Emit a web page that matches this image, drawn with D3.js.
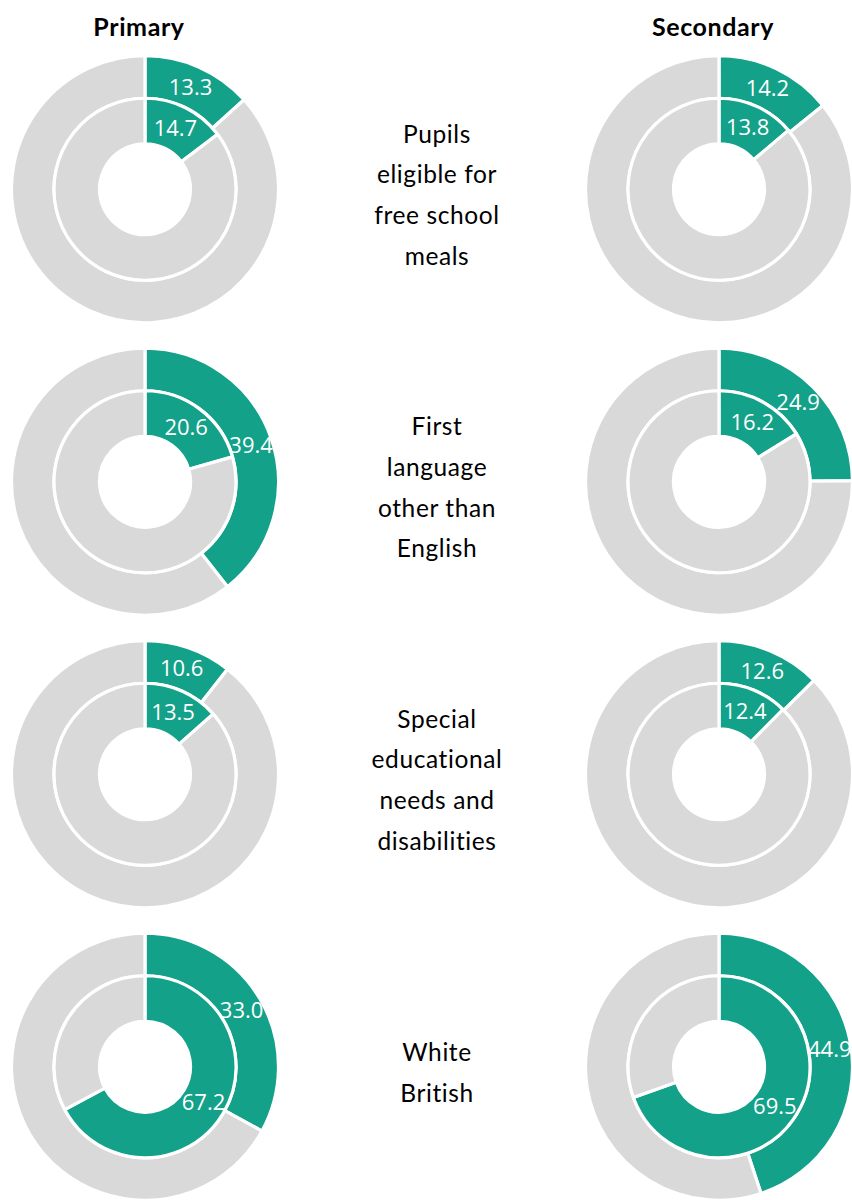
<!DOCTYPE html>
<html>
<head>
<meta charset="utf-8">
<script src="https://cdn.jsdelivr.net/npm/d3@7"></script>
<style>
  html, body { margin: 0; padding: 0; background: #ffffff; }
  svg { display: block; }
</style>
</head>
<body>
<div id="chart"></div>
<script>
// Pupil characteristics, shown as paired doughnuts (inner and outer ring) per phase
const categories = [
  ["Pupils", "eligible for", "free school", "meals"],
  ["First", "language", "other than", "English"],
  ["Special", "educational", "needs and", "disabilities"],
  ["White", "British"]
];
const phases = ["Primary", "Secondary"];

// Percentages for each category (same order as categories)
const primaryInner   = [14.7, 20.6, 13.5, 67.2];
const primaryOuter   = [13.3, 39.4, 10.6, 33.0];
const secondaryInner = [13.8, 16.2, 12.4, 69.5];
const secondaryOuter = [14.2, 24.9, 12.6, 44.9];

const values = {
  Primary:   { inner: primaryInner,   outer: primaryOuter },
  Secondary: { inner: secondaryInner, outer: secondaryOuter }
};

const W = 852, H = 1200;
const teal = "#13a189", grey = "#d9d9d9";

const svg = d3.select("#chart").append("svg")
  .attr("width", W).attr("height", H);

const rowIdx = d3.range(categories.length);
const y = d3.scaleBand().domain(rowIdx).range([43, 1213]).padding(0);
const x = d3.scaleOrdinal().domain(phases).range([145, 719]);

// column headers
svg.selectAll("text.header").data(phases).join("text")
  .attr("class", "header")
  .attr("x", d => x(d) - 6)
  .attr("y", 36)
  .attr("text-anchor", "middle")
  .attr("font-family", "Lato, 'Open Sans', sans-serif")
  .attr("font-weight", "bold")
  .attr("font-size", 25)
  .attr("letter-spacing", 0.6)
  .attr("fill", "#000")
  .text(d => d);

const pie = d3.pie().sort(null).value(d => d).startAngle(0).endAngle(2 * Math.PI);
const rings = {
  inner: d3.arc().innerRadius(45.5).outerRadius(91),
  outer: d3.arc().innerRadius(91).outerRadius(133.5)
};

phases.forEach(phase => {
  rowIdx.forEach(i => {
    const cx = x(phase), cy = y(i) + y.bandwidth() / 2;
    const g = svg.append("g").attr("transform", `translate(${cx},${cy})`);
    const labels = [];
    ["outer", "inner"].forEach(ring => {
      const v = values[phase][ring][i];
      const arcs = pie([v, 100 - v]);
      g.selectAll(null).data(arcs).join("path")
        .attr("d", rings[ring])
        .attr("fill", (d, k) => k === 0 ? teal : grey)
        .attr("stroke", "#fff")
        .attr("stroke-width", 3.2)
        .attr("stroke-linejoin", "round");
      labels.push({ v, pos: rings[ring].centroid(arcs[0]) });
    });
    g.selectAll("text.val").data(labels).join("text")
      .attr("class", "val")
      .attr("x", d => d.pos[0])
      .attr("y", d => d.pos[1])
      .attr("dy", "0.36em")
      .attr("text-anchor", "middle")
      .attr("font-family", "'Open Sans', sans-serif")
      .attr("font-size", 22)
      .attr("fill", "#fff")
      .text(d => d3.format(".1f")(d.v));
  });
});

// category labels between the columns
const lineH = 40.7;
rowIdx.forEach(i => {
  const lines = categories[i];
  const cy = y(i) + y.bandwidth() / 2 + 6;
  const t = svg.append("text")
    .attr("text-anchor", "middle")
    .attr("font-family", "Lato, 'Open Sans', sans-serif")
    .attr("font-size", 24.5)
    .attr("letter-spacing", 0.6)
    .attr("fill", "#000");
  lines.forEach((l, k) => {
    t.append("tspan")
      .attr("x", 437)
      .attr("y", cy + (k - (lines.length - 1) / 2) * lineH)
      .attr("dy", "0.35em")
      .text(l);
  });
});
</script>
</body>
</html>
